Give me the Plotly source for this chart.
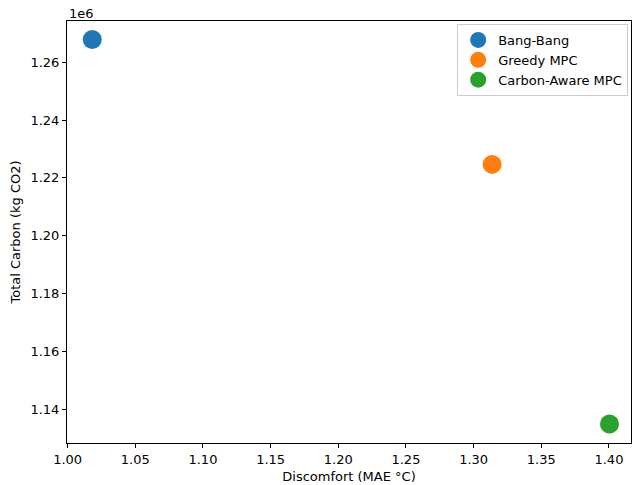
import plotly.graph_objects as go

controllers = ["Bang-Bang", "Greedy MPC", "Carbon-Aware MPC"]
discomfort = [1.0182, 1.3137, 1.4004]
total_carbon = [1.26784e6, 1.22465e6, 1.13482e6]
colors = ["#1f77b4", "#ff7f0e", "#2ca02c"]

fig = go.Figure()
for name, x, y, c in zip(controllers, discomfort, total_carbon, colors):
    fig.add_trace(go.Scatter(x=[x], y=[y], mode="markers", name=name,
                             marker=dict(size=19, color=c, line=dict(width=0))))

font = dict(family="DejaVu Sans", size=13, color="black")
axis_common = dict(showline=True, linecolor="black", linewidth=1, mirror=True,
                   showgrid=False, zeroline=False, ticks="outside", ticklen=4,
                   tickcolor="black", tickfont=font)

fig.update_layout(
    width=632, height=485,
    margin=dict(l=67, r=1, t=21, b=42),
    plot_bgcolor="white", paper_bgcolor="white",
    font=font,
    xaxis=dict(range=[0.99955, 1.4163], tickvals=[1.00, 1.05, 1.10, 1.15, 1.20, 1.25, 1.30, 1.35, 1.40],
               ticktext=["1.00", "1.05", "1.10", "1.15", "1.20", "1.25", "1.30", "1.35", "1.40"],
               title=dict(text="Discomfort (MAE °C)", font=font, standoff=6), **axis_common),
    yaxis=dict(range=[1.12825e6, 1.27427e6],
               tickvals=[1.14e6, 1.16e6, 1.18e6, 1.20e6, 1.22e6, 1.24e6, 1.26e6],
               ticktext=["1.14", "1.16", "1.18", "1.20", "1.22", "1.24", "1.26"],
               title=dict(text="Total Carbon (kg CO2)", font=font, standoff=6), **axis_common),
    legend=dict(x=0.995, y=0.993, xanchor="right", yanchor="top",
                bordercolor="#cccccc", borderwidth=1, bgcolor="rgba(255,255,255,0.8)",
                font=font, itemsizing="trace", tracegroupgap=0),
    showlegend=True,
)
fig.add_annotation(text="1e6", xref="paper", yref="paper", x=0.0, y=1.0,
                   xanchor="left", yanchor="bottom", showarrow=False, font=font, yshift=-2)

fig.write_html("out.html", config={"displayModeBar": False},
               post_script="document.body.style.margin='0';document.body.style.overflow='hidden';")
